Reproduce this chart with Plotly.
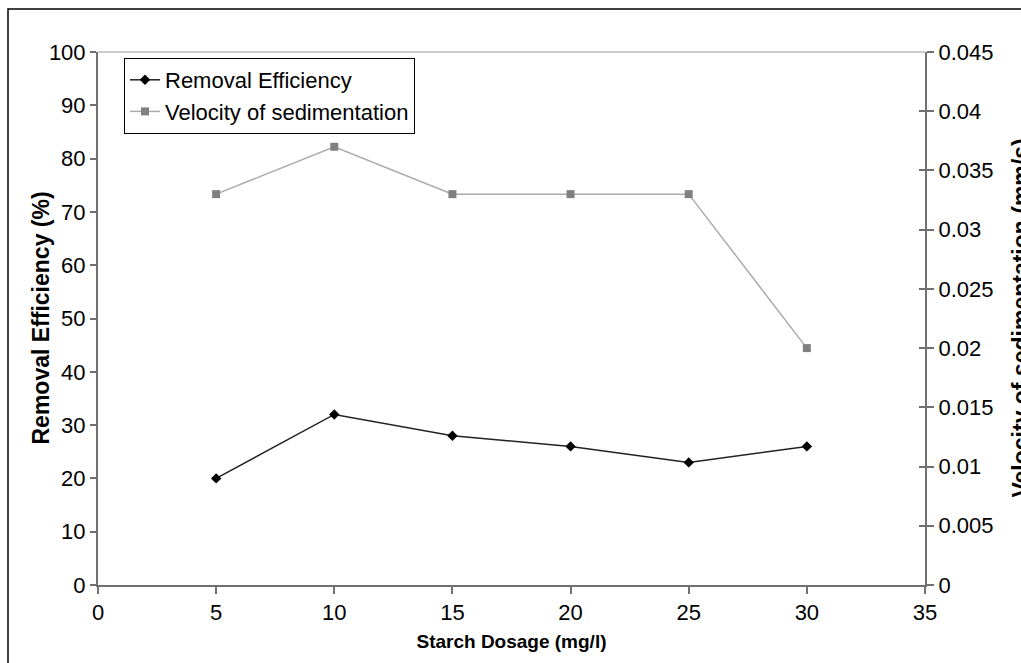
import plotly.graph_objects as go

dosage = [5, 10, 15, 20, 25, 30]
removal_eff = [20, 32, 28, 26, 23, 26]
velocity = [0.033, 0.037, 0.033, 0.033, 0.033, 0.020]

W, H = 1021, 663
L, R, T, B = 98, 96, 52, 78
pw = W - L - R
ph = H - T - B

def px_x(p):
    return (p - L) / pw

def px_y(p):
    return (H - B - p) / ph

FONT = "Liberation Sans, Arial, sans-serif"
AX = "#707070"
TF = 22

fig = go.Figure()
fig.add_trace(go.Scatter(
    x=dosage, y=removal_eff, name="Removal Efficiency",
    mode="lines+markers",
    line=dict(color="#222222", width=1.5),
    marker=dict(symbol="diamond", size=8, color="#000000"),
    yaxis="y",
))
fig.add_trace(go.Scatter(
    x=dosage, y=velocity, name="Velocity of sedimentation",
    mode="lines+markers",
    line=dict(color="#ababab", width=1.5),
    marker=dict(symbol="square", size=8, color="#808080"),
    yaxis="y2",
))

fig.update_layout(
    width=W, height=H,
    margin=dict(l=L, r=R, t=T, b=B, pad=0),
    paper_bgcolor="white", plot_bgcolor="white",
    font=dict(family=FONT, size=TF, color="#000000"),
    showlegend=True,
    legend=dict(
        x=px_x(124), y=px_y(58), xanchor="left", yanchor="top",
        bgcolor="white", bordercolor="#000000", borderwidth=1,
        font=dict(family=FONT, size=TF, color="#000000"),
        tracegroupgap=0, itemwidth=30,
    ),
    xaxis=dict(
        range=[0, 35], tickvals=[0, 5, 10, 15, 20, 25, 30, 35],
        showgrid=False, zeroline=False,
        showline=True, linecolor=AX, linewidth=2,
        ticks="outside", ticklen=7, tickcolor=AX, tickwidth=1.5,
        tickfont=dict(size=TF),
        title=dict(text="<b>Starch Dosage (mg/l)</b>", font=dict(size=19), standoff=10),
    ),
    yaxis=dict(
        range=[0, 100], tickvals=list(range(0, 101, 10)),
        showgrid=False, zeroline=False,
        showline=True, linecolor=AX, linewidth=2,
        ticks="outside", ticklen=6, tickcolor=AX, tickwidth=1.5,
        tickfont=dict(size=TF),
    ),
    yaxis2=dict(
        range=[0, 0.045], tickvals=[0, 0.005, 0.01, 0.015, 0.02, 0.025, 0.03, 0.035, 0.04, 0.045],
        ticktext=["0", "0.005", "0.01", "0.015", "0.02", "0.025", "0.03", "0.035", "0.04", "0.045"],
        overlaying="y", side="right",
        showgrid=False, zeroline=False,
        showline=True, linecolor=AX, linewidth=2,
        ticks="outside", ticklen=7, tickcolor=AX, tickwidth=1.5,
        tickfont=dict(size=TF),
    ),
    yaxis3=dict(
        range=[0, 0.045], tickvals=[0, 0.005, 0.01, 0.015, 0.02, 0.025, 0.03, 0.035, 0.04, 0.045],
        overlaying="y", side="right", showticklabels=False,
        showgrid=False, zeroline=False, showline=False,
        ticks="inside", ticklen=6, tickcolor=AX, tickwidth=1.5,
    ),
)

# dummy trace to activate yaxis3
fig.add_trace(go.Scatter(x=[None], y=[None], yaxis="y3", showlegend=False, hoverinfo="skip"))

# left axis title
fig.add_annotation(
    text="<b>Removal Efficiency (%)</b>",
    xref="paper", yref="paper", x=px_x(40), y=0.5,
    xanchor="center", yanchor="middle", textangle=-90,
    showarrow=False, font=dict(family=FONT, size=23, color="#000000"),
)
# right axis title (partially cut at window edge, as in the reference)
fig.add_annotation(
    text="<b>Velocity of sedimentation (mm/s)</b>",
    xref="paper", yref="paper", x=px_x(1020), y=0.5,
    xanchor="center", yanchor="middle", textangle=-90,
    showarrow=False, font=dict(family=FONT, size=23, color="#000000"),
)

# light top border of plot area
fig.add_shape(type="line", xref="paper", yref="paper", x0=0, x1=1, y0=1, y1=1,
              line=dict(color="#bdbdbd", width=1.5))
# outer chart frame (left/top visible)
fig.add_shape(type="rect", xref="paper", yref="paper",
              x0=px_x(8), y0=px_y(9), x1=px_x(1100), y1=px_y(720),
              line=dict(color="#000000", width=1.5))

fig.write_html("out.html")
